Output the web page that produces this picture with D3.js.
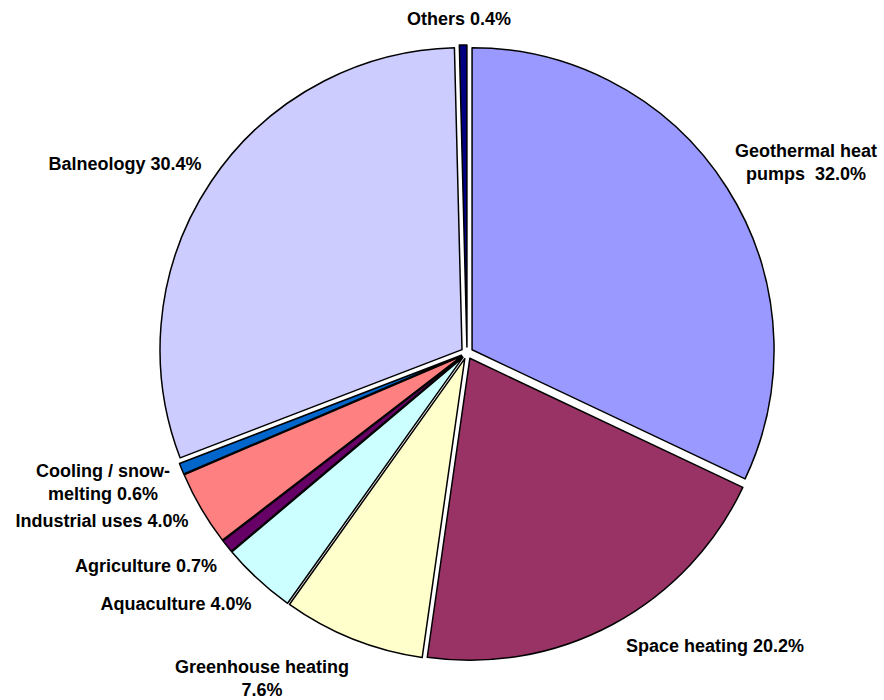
<!DOCTYPE html>
<html>
<head>
<meta charset="utf-8">
<script src="https://cdn.jsdelivr.net/npm/d3@7"></script>
<style>
  body { margin: 0; background: #fff; }
  svg text { font-family: "Liberation Sans", Arial, sans-serif; font-weight: bold; font-size: 18px; fill: #000; }
</style>
</head>
<body>
<script>
"use strict";
(function(){
    // categories, clockwise from 12 o'clock
    const categories = ["Geothermal heat pumps", "Space heating", "Greenhouse heating", "Aquaculture",
        "Agriculture", "Industrial uses", "Cooling / snow-melting", "Balneology", "Others"]
    const shares = [32.0, 20.2, 7.6, 4.0, 0.7, 4.0, 0.6, 30.4, 0.4]
    // label text lines
    const labelLines = [
        ["Geothermal heat", "pumps  32.0%"],
        ["Space heating 20.2%"],
        ["Greenhouse heating", "7.6%"],
        ["Aquaculture 4.0%"],
        ["Agriculture 0.7%"],
        ["Industrial uses 4.0%"],
        ["Cooling / snow-", "melting 0.6%"],
        ["Balneology 30.4%"],
        ["Others 0.4%"]
    ]
    const colors = ["#9999FF", "#993366", "#FFFFCC", "#CCFFFF", "#660066", "#FF8080", "#0066CC", "#CCCCFF", "#000080"]

    // layout
    const measurements = { width: 884, height: 700, cx: 467, cy: 353, radius: 302, explode: 6, lineHeight: 23 }
    // label anchor (centre x, first baseline y)
    const labelAt = [[806, 157], [715, 652], [262, 673], [176, 610], [146, 572], [102, 527], [103, 477], [125, 170], [459, 25]]

    let svgContainer = d3.select("body").append("svg")
        .attr("width", measurements.width)
        .attr("height", measurements.height)

    let pie = d3.pie().sort(null).startAngle(0).endAngle(2 * Math.PI)
    let arcs = pie(shares)

    let arc = d3.arc()
        .innerRadius(0)
        .outerRadius(measurements.radius)

    let chart = svgContainer.append("g")
        .attr("transform", "translate(" + measurements.cx + "," + measurements.cy + ")")

    chart.selectAll("path")
        .data(arcs)
        .enter()
        .append("path")
        .attr("d", arc)
        .attr("transform", function(d) {
            let mid = (d.startAngle + d.endAngle) / 2
            let dx = measurements.explode * Math.sin(mid)
            let dy = -measurements.explode * Math.cos(mid)
            return "translate(" + dx + "," + dy + ")"
        })
        .style("fill", function(d, i) { return colors[i] })
        .style("stroke", "#000")
        .style("stroke-width", 1.5)
        .style("stroke-linejoin", "round")

    let labels = svgContainer.selectAll(".label")
        .data(categories)
        .enter()
        .append("text")
        .attr("class", "label")
        .attr("text-anchor", "middle")
        .attr("x", function(d, i) { return labelAt[i][0] })
        .attr("y", function(d, i) { return labelAt[i][1] })

    labels.each(function(d, i) {
        let t = d3.select(this)
        labelLines[i].forEach(function(line, j) {
            t.append("tspan")
                .attr("x", labelAt[i][0])
                .attr("dy", j === 0 ? 0 : measurements.lineHeight)
                .attr("xml:space", "preserve")
                .style("white-space", "pre")
                .text(line)
        })
    })
})()
</script>
</body>
</html>
